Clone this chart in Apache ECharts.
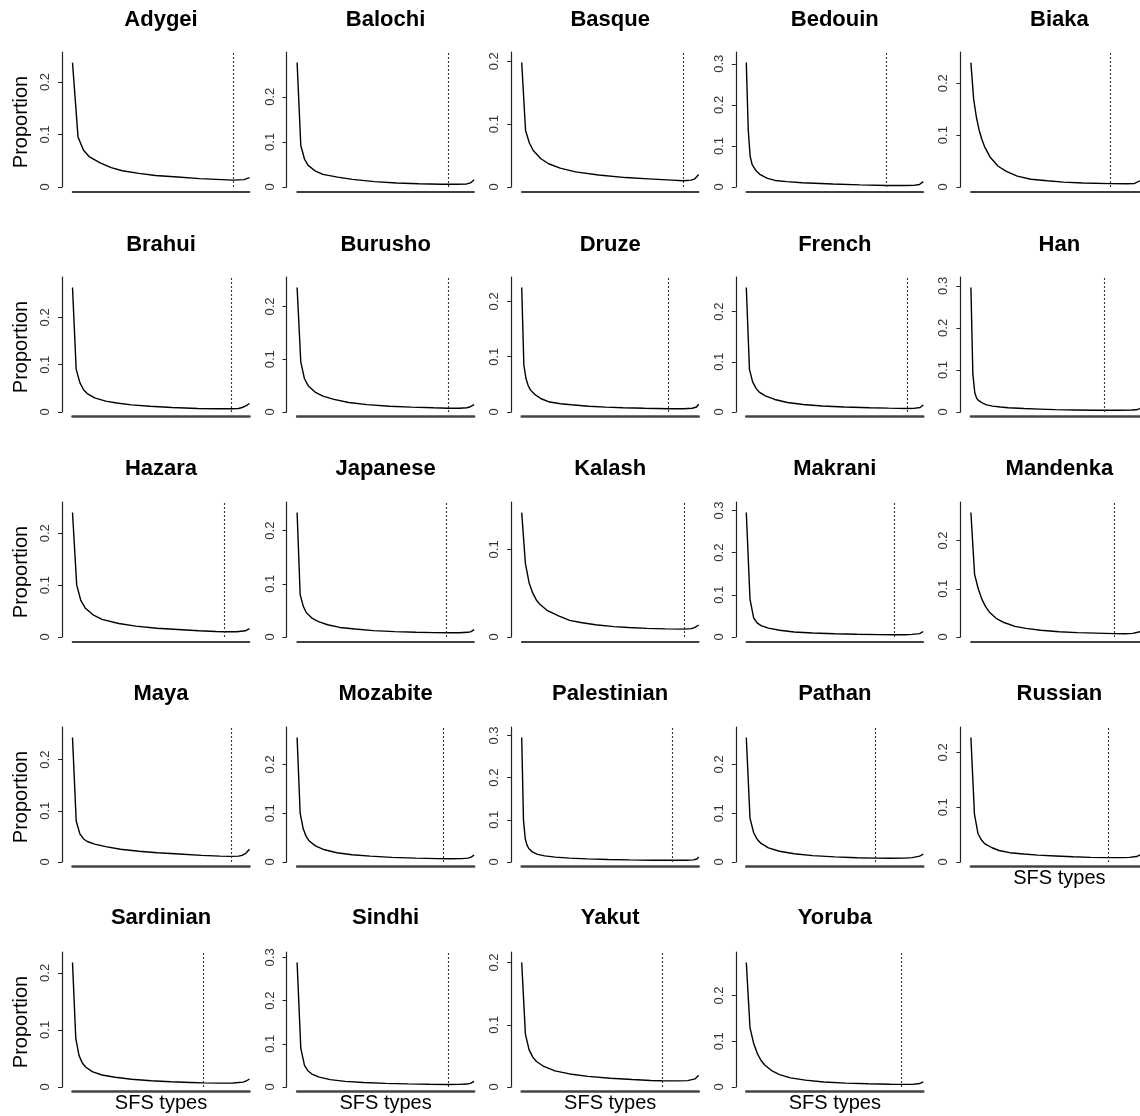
<!DOCTYPE html>
<html>
<head>
<meta charset="utf-8">
<script src="https://cdn.jsdelivr.net/npm/echarts@6/dist/echarts.min.js"></script>
<style>
html,body{margin:0;padding:0;background:#fff;}
#chart{width:1140px;height:1116px;}
</style>
</head>
<body>
<div id="chart"></div>
<script>
// ---------------- DATA ----------------
const populations = ['Adygei','Balochi','Basque','Bedouin','Biaka',
  'Brahui','Burusho','Druze','French','Han',
  'Hazara','Japanese','Kalash','Makrani','Mandenka',
  'Maya','Mozabite','Palestinian','Pathan','Russian',
  'Sardinian','Sindhi','Yakut','Yoruba'];
// number of SFS types (x extent) per population
const sfsTypeCount = [33,49,47,93,63, 49,49,83,57,87, 43,59,49,49,47, 49,59,101,49,49, 55,49,49,49];
// SFS type where the dashed vertical line is drawn
const cutoffType = [30,42,43,74,52, 44,42,69,52,69, 37,50,45,41,40, 44,49,86,36,40, 41,42,39,43];
const yTickLabels = ['0','0.1','0.2','0.3'];

// [SFS type, proportion]
const adygei = [[1,.237],[2,.095],[3,.07],[4,.058],[6,.046],[8,.037],[10,.031],[13,.026],[16,.022],[20,.019],[24,.016],[28,.014],[30,.013],[32,.014],[33,.018]];
const balochi = [[1,.276],[2,.092],[3,.062],[4,.048],[6,.035],[8,.028],[12,.022],[16,.017],[22,.012],[28,.009],[34,.0072],[40,.0062],[44,.006],[47,.0068],[48,.009],[49,.016]];
const basque = [[1,.198],[2,.09],[3,.07],[4,.058],[6,.045],[8,.037],[11,.03],[15,.024],[21,.019],[28,.015],[34,.013],[40,.011],[43,.01],[45,.011],[46,.013],[47,.02]];
const bedouin = [[1,.303],[2,.14],[3,.075],[4,.055],[6,.04],[8,.031],[12,.021],[16,.016],[22,.013],[30,.0105],[46,.0073],[60,.0052],[74,.0036],[84,.0035],[88,.004],[91,.006],[93,.013]];
const biaka = [[1,.24],[2,.17],[3,.135],[4,.11],[5,.092],[6,.078],[8,.058],[11,.04],[14,.03],[18,.021],[23,.015],[29,.012],[35,.0095],[42,.0078],[52,.0065],[58,.0062],[61,.0068],[63,.012]];
const brahui = [[1,.263],[2,.09],[3,.062],[4,.047],[5,.039],[7,.03],[10,.023],[13,.019],[17,.015],[22,.012],[28,.0095],[35,.0075],[40,.007],[44,.0068],[46,.0075],[47,.0095],[48,.013],[49,.018]];
const burusho = [[1,.236],[2,.095],[3,.063],[4,.05],[6,.037],[8,.03],[11,.024],[15,.018],[20,.014],[26,.011],[32,.0093],[38,.008],[42,.0072],[45,.0072],[47,.008],[48,.01],[49,.014]];
const druze = [[1,.225],[2,.085],[3,.06],[4,.048],[5,.04],[7,.032],[10,.024],[14,.018],[19,.015],[24,.013],[32,.0105],[40,.0088],[48,.0078],[58,.0068],[69,.006],[76,.006],[80,.0068],[82,.009],[83,.014]];
const french = [[1,.248],[2,.085],[3,.06],[4,.048],[5,.04],[7,.032],[10,.025],[14,.019],[19,.015],[25,.012],[32,.01],[40,.0085],[46,.0077],[52,.007],[54,.0072],[56,.009],[57,.014]];
const han = [[1,.296],[2,.09],[3,.045],[4,.032],[5,.027],[7,.021],[9,.017],[12,.014],[16,.012],[20,.0102],[28,.0082],[36,.0068],[44,.0056],[54,.0048],[64,.0042],[69,.004],[76,.004],[83,.0048],[86,.006],[87,.009]];
const hazara = [[1,.24],[2,.1],[3,.07],[4,.056],[6,.042],[8,.034],[12,.026],[16,.021],[21,.017],[26,.0145],[31,.012],[35,.0105],[37,.01],[40,.0102],[42,.012],[43,.016]];
const japanese = [[1,.234],[2,.08],[3,.058],[4,.046],[6,.035],[8,.029],[11,.023],[15,.018],[20,.015],[26,.012],[33,.0102],[40,.009],[46,.0082],[50,.008],[54,.008],[57,.0088],[58,.01],[59,.014]];
const kalash = [[1,.142],[2,.084],[3,.062],[4,.05],[5,.042],[6,.037],[8,.03],[11,.024],[14,.019],[17,.0165],[21,.014],[26,.0118],[30,.0108],[35,.0098],[40,.0093],[45,.009],[47,.0095],[48,.011],[49,.0137]];
const makrani = [[1,.295],[2,.09],[3,.045],[4,.033],[5,.027],[7,.021],[10,.016],[14,.012],[19,.0095],[25,.0078],[31,.0065],[37,.0056],[41,.0052],[44,.0055],[46,.0062],[48,.008],[49,.013]];
const mandenka = [[1,.258],[2,.13],[3,.1],[4,.078],[5,.063],[6,.052],[8,.038],[10,.03],[13,.022],[16,.018],[20,.014],[25,.011],[30,.009],[35,.008],[40,.007],[43,.0068],[45,.0075],[47,.011]];
const maya = [[1,.243],[2,.08],[3,.055],[4,.045],[5,.04],[7,.035],[10,.03],[14,.025],[19,.021],[24,.018],[30,.0155],[36,.013],[41,.0115],[44,.011],[46,.0115],[47,.013],[48,.017],[49,.025]];
const mozabite = [[1,.255],[2,.1],[3,.068],[4,.052],[5,.043],[7,.033],[10,.025],[14,.019],[19,.015],[25,.012],[32,.0095],[40,.008],[47,.007],[51,.0068],[55,.007],[57,.008],[58,.01],[59,.014]];
const palestinian = [[1,.295],[2,.1],[3,.055],[4,.04],[5,.032],[7,.024],[10,.018],[14,.0145],[20,.0115],[28,.0092],[38,.0074],[50,.006],[62,.005],[75,.0043],[86,.004],[94,.0042],[98,.005],[100,.007],[101,.012]];
const pathan = [[1,.255],[2,.09],[3,.06],[4,.046],[5,.038],[7,.029],[10,.022],[14,.017],[19,.013],[25,.0105],[31,.0088],[36,.008],[40,.0078],[44,.008],[46,.009],[48,.012],[49,.016]];
const russian = [[1,.227],[2,.088],[3,.052],[4,.04],[5,.033],[7,.026],[9,.021],[12,.017],[16,.0145],[20,.0125],[25,.011],[30,.0095],[35,.0085],[40,.0079],[44,.008],[46,.0085],[48,.01],[49,.013]];
const sardinian = [[1,.218],[2,.085],[3,.055],[4,.042],[5,.035],[7,.027],[10,.021],[14,.017],[19,.0135],[25,.011],[31,.0093],[37,.008],[41,.0072],[46,.0068],[50,.007],[53,.0085],[54,.0105],[55,.014]];
const sindhi = [[1,.288],[2,.09],[3,.05],[4,.037],[5,.03],[7,.023],[10,.017],[14,.013],[19,.0105],[25,.0085],[31,.0072],[37,.0063],[42,.0058],[45,.006],[47,.0068],[48,.0085],[49,.013]];
const yakut = [[1,.2],[2,.085],[3,.06],[4,.048],[5,.041],[7,.033],[10,.026],[14,.021],[19,.017],[25,.014],[31,.012],[36,.0105],[39,.01],[43,.0098],[46,.0102],[48,.013],[49,.019]];
const yoruba = [[1,.272],[2,.13],[3,.095],[4,.073],[5,.058],[6,.048],[8,.035],[10,.027],[13,.02],[17,.015],[22,.011],[28,.0085],[34,.007],[40,.006],[43,.0057],[46,.0058],[48,.0075],[49,.011]];

const sfsData = [adygei,balochi,basque,bedouin,biaka,brahui,burusho,druze,french,han,
  hazara,japanese,kalash,makrani,mandenka,maya,mozabite,palestinian,pathan,russian,
  sardinian,sindhi,yakut,yoruba];

// ---------------- LAYOUT ----------------
const FONT = '"Liberation Sans", Arial, Helvetica, sans-serif';
const colStep = 224.6, rowStep = 225;
const gLeft0 = 72.5, gTop0 = 52, gW = 177, gH = 135;
const hatchedRows = [false, true, false, true, true];

const grids = [], xAxes = [], yAxes = [], series = [], graphics = [];

populations.forEach((name, i) => {
  const r = Math.floor(i / 5), c = i % 5;
  const left = gLeft0 + c * colStep, top = gTop0 + r * rowStep;
  const data = sfsData[i];
  const maxV = Math.max(...data.map(d => d[1]));
  const ymax = maxV * 1.085;
  const tickVals = yTickLabels.map(Number).filter(v => v <= ymax + 1e-9);

  grids.push({left: left, top: top, width: gW, height: gH, containLabel: false});
  const hatched = hatchedRows[r];
  xAxes.push({
    gridIndex: i, type: 'value', min: 1, max: sfsTypeCount[i], offset: 4.5,
    axisLine: {show: true, onZero: false, lineStyle: hatched
      ? {color: '#444', width: 2.6, type: [1, 1]}
      : {color: '#000', width: 1.6}},
    axisTick: {show: false}, axisLabel: {show: false}, splitLine: {show: false}
  });
  yAxes.push({
    gridIndex: i, type: 'value', min: 0, max: ymax, offset: 10.5,
    axisLine: {show: true, lineStyle: {color: '#222', width: 1.2}},
    axisTick: {show: true, length: 4, customValues: tickVals, lineStyle: {color: '#222', width: 1}},
    axisLabel: {show: true, customValues: tickVals, rotate: 90, margin: 10,
      fontSize: 13, color: '#333', fontFamily: FONT,
      formatter: v => yTickLabels[Math.round(v * 10)]},
    splitLine: {show: false}
  });
  series.push({
    type: 'line', xAxisIndex: i, yAxisIndex: i, data: data,
    symbol: 'none', showSymbol: false, smooth: false, animation: false,
    lineStyle: {color: '#000', width: 1.4},
    markLine: {silent: true, symbol: 'none', animation: false,
      label: {show: false},
      lineStyle: {color: '#333', type: [2, 2], width: 1.1},
      data: [{xAxis: cutoffType[i]}]}
  });
  // panel title
  graphics.push({type: 'text', x: left + gW / 2, y: 20 + r * 224.5,
    style: {text: name, textAlign: 'center', textVerticalAlign: 'middle',
      font: 'bold 22px ' + FONT, fill: '#000'}});
  if (c === 0) {
    graphics.push({type: 'text', x: 21, y: 122 + r * rowStep, rotation: Math.PI / 2,
      style: {text: 'Proportion', textAlign: 'center', textVerticalAlign: 'middle',
        font: '20px ' + FONT, fill: '#000'}});
  }
  if (r === 4 || (r === 3 && c === 4)) {
    graphics.push({type: 'text', x: left + gW / 2, y: 878 + (r - 3) * rowStep,
      style: {text: 'SFS types', textAlign: 'center', textVerticalAlign: 'middle',
        font: '20px ' + FONT, fill: '#000'}});
  }
});

const chart = echarts.init(document.getElementById('chart'), null, {renderer: 'canvas'});
chart.setOption({
  backgroundColor: '#fff',
  animation: false,
  grid: grids, xAxis: xAxes, yAxis: yAxes, series: series,
  graphic: graphics
});
</script>
</body>
</html>
